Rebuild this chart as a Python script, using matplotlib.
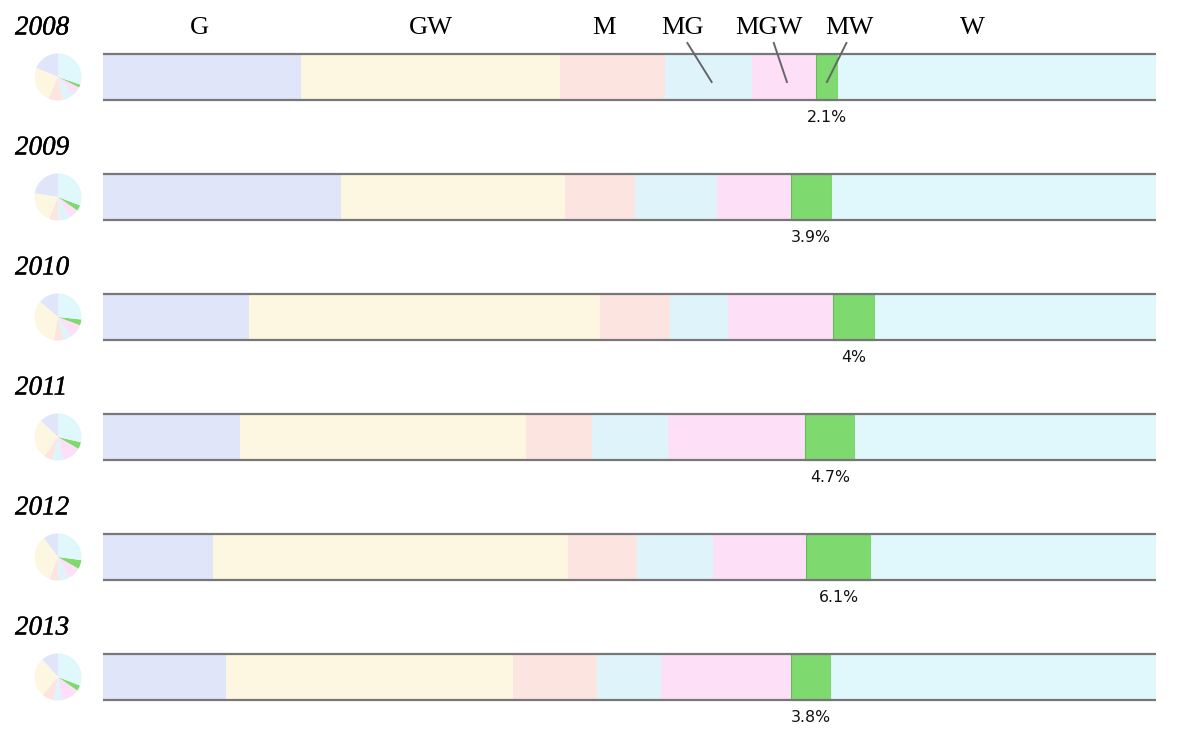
import matplotlib
matplotlib.use('Agg')
import matplotlib.pyplot as plt
import matplotlib.patheffects as pe
import numpy as np

W, H = 1179, 754

years = ['2008', '2009', '2010', '2011', '2012', '2013']
categories = ['G', 'GW', 'M', 'MG', 'MGW', 'MW', 'W']
colors = ['#e1e5fa', '#fdf7e1', '#fce4e1', '#dff4fa', '#fde0f8', '#7ed96e', '#e0f7fc']

# share of each category per year (percent)
g_vals = [18.8, 22.6, 13.9, 13.0, 10.4, 11.7]
gw_vals = [24.6, 21.3, 33.3, 27.2, 33.8, 27.2]
m_vals = [10.0, 6.6, 6.6, 6.2, 6.5, 8.0]
mg_vals = [8.2, 7.8, 5.6, 7.3, 7.2, 6.1]
mgw_vals = [6.1, 7.0, 9.9, 13.0, 8.9, 12.3]
mw_vals = [2.1, 3.9, 4.0, 4.7, 6.1, 3.8]
w_vals = [30.2, 30.8, 26.7, 28.6, 27.1, 30.9]

series = [g_vals, gw_vals, m_vals, mg_vals, mgw_vals, mw_vals, w_vals]
data = np.array(series).T  # rows = years

# label positions (percent of bar width) and which get leader lines
label_x = [9.2, 31.1, 47.6, 55.0, 63.2, 70.9, 82.6]
leader = ['MG', 'MGW', 'MW']

fig = plt.figure(figsize=(W / 100, H / 100), dpi=100)
fig.patch.set_facecolor('white')

ax = fig.add_axes([103 / W, 0, 1053 / W, 1])
ax.set_xlim(0, 100)
ax.set_ylim(H, 0)
ax.axis('off')

row_top = 54
row_gap = 120
bar_h = 46

for i, year in enumerate(years):
    yc = row_top + bar_h / 2 + i * row_gap
    left = 0
    for j, cat in enumerate(categories):
        v = data[i, j]
        edge = '#62bd55' if cat == 'MW' else 'none'
        ax.barh(yc, v, left=left, height=bar_h, color=colors[j],
                edgecolor=edge, linewidth=0.8, zorder=2)
        if cat == 'MW':
            ax.text(left + v / 2, yc + bar_h / 2 + 18, f'{v:g}%',
                    ha='center', va='center', fontsize=11.3,
                    family='DejaVu Sans', color='#111111')
        left += v
    ax.hlines([yc - bar_h / 2, yc + bar_h / 2], 0, left, color='#777777',
              linewidth=1.6, zorder=3)

    # pie of the same shares
    cy = yc
    pax = fig.add_axes([34 / W, 1 - (cy + 24) / H, 48 / W, 48 / H])
    pax.pie(data[i], colors=colors, startangle=90, counterclock=True,
            wedgeprops=dict(linewidth=0))
    pax.set_xlim(-1.02, 1.02)
    pax.set_ylim(-1.02, 1.02)
    pax.set_aspect('equal')

    fig.text(15 / W, 1 - (row_top - 26 + i * row_gap) / H, year,
             ha='left', va='center', fontsize=19.5, style='italic',
             family='Liberation Serif', color='black',
             path_effects=[pe.withStroke(linewidth=0.3, foreground='black')])

# category labels above the first bar
lab_y = 28
first = data[0]
starts = np.concatenate([[0], np.cumsum(first)[:-1]])
for j, cat in enumerate(categories):
    ax.text(label_x[j], lab_y, cat, ha='center', va='center', fontsize=19,
            family='Liberation Serif', color='black', clip_on=False)
    if cat in leader:
        mid = starts[j] + first[j] / 2
        x0 = label_x[j] + (0.5 if cat != 'MW' else -0.3)
        x1 = mid + (0.3 if cat != 'MW' else 0.0)
        ax.plot([x0, x1], [43, 82], color='#666666', linewidth=1.4,
                zorder=4, clip_on=False)

fig.savefig('out.png', dpi=100, facecolor='white')
